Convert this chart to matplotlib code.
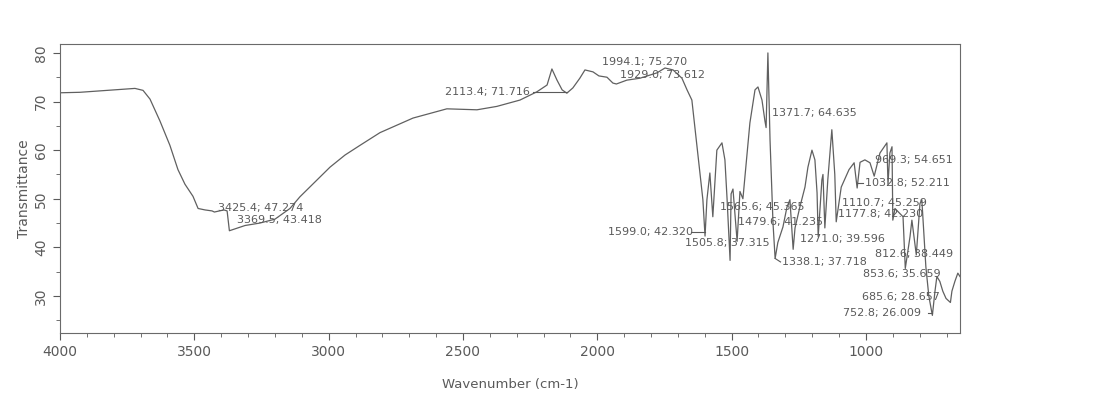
import numpy as np
import matplotlib.pyplot as plt
from matplotlib.ticker import MultipleLocator

# spectrum (wavenumber cm-1, %T)
wavenumber = [4000, 3926, 3851, 3777, 3721, 3691, 3665, 3628, 3591, 3561, 3535, 3505,
              3486, 3460, 3434, 3425.4, 3390, 3378, 3369.5, 3349, 3311, 3256, 3200, 3144,
              3107, 3043, 2995, 2939, 2883, 2809, 2686, 2560, 2448, 2374, 2288, 2225,
              2187, 2169, 2150, 2131, 2113.4, 2091, 2065, 2046, 2016, 1994.1, 1964, 1942,
              1929.0, 1890, 1841, 1778, 1748, 1718, 1685, 1666, 1648, 1637, 1618, 1607,
              1599.0, 1592, 1581, 1570, 1555, 1536, 1525, 1517, 1505.8, 1502, 1495, 1479.6,
              1469, 1458, 1447, 1432, 1413, 1402, 1387, 1376, 1371.7, 1365, 1357, 1346,
              1338.1, 1328, 1309, 1294, 1283, 1271.0, 1264, 1246, 1227, 1216, 1201, 1190,
              1182, 1177.8, 1164, 1160, 1153, 1142, 1127, 1116, 1110.7, 1092, 1063, 1044,
              1032.8, 1022, 1004, 985, 969.3, 948, 922, 918, 911, 903, 900, 892,
              862, 853.6, 836, 829, 812.6, 799, 792, 777, 766, 752.8, 743, 736,
              725, 714, 702, 685.6, 680, 669, 658, 650]
transmittance = [71.8, 71.9, 72.2, 72.5, 72.7, 72.3, 70.5, 66.0, 61.0, 56.0, 53.0, 50.5,
                 48.0, 47.7, 47.5, 47.27, 47.7, 47.5, 43.42, 43.8, 44.5, 45.0, 45.8, 48.0,
                 50.4, 53.9, 56.5, 59.0, 61.0, 63.6, 66.6, 68.5, 68.3, 69.0, 70.3, 72.0,
                 73.4, 76.7, 74.4, 72.4, 71.72, 72.8, 74.8, 76.5, 76.1, 75.27, 75.0, 73.8,
                 73.61, 74.4, 74.8, 75.9, 76.9, 76.5, 74.8, 72.4, 70.3, 64.8, 55.3, 49.8,
                 42.32, 49.8, 55.3, 46.3, 60.0, 61.5, 58.0, 50.0, 37.32, 51.0, 52.0, 41.24,
                 51.5, 50.0, 56.5, 65.6, 72.4, 73.0, 70.3, 66.0, 64.64, 80.0, 62.0, 45.0,
                 37.72, 41.0, 44.2, 48.3, 49.8, 39.60, 44.0, 48.3, 52.4, 56.5, 60.0, 58.0,
                 51.2, 42.23, 53.9, 55.0, 44.0, 53.9, 64.2, 55.0, 45.26, 52.4, 56.0, 57.4,
                 52.21, 57.5, 58.0, 57.4, 54.65, 59.4, 61.5, 53.0, 59.4, 60.7, 45.6, 48.0,
                 46.3, 35.66, 42.2, 45.6, 38.45, 49.0, 49.8, 36.0, 30.0, 26.01, 31.0, 34.0,
                 33.0, 31.0, 29.5, 28.66, 31.0, 33.0, 34.7, 34.0]

# peak labels: text, text position (wn, T), alignment
peak_text = ["3425.4; 47.274", "3369.5; 43.418", "2113.4; 71.716", "1994.1; 75.270",
             "1929.0; 73.612", "1371.7; 64.635", "1599.0; 42.320", "1565.6; 45.365",
             "1505.8; 37.315", "1479.6; 41.235", "1338.1; 37.718", "1271.0; 39.596",
             "1177.8; 42.230", "1110.7; 45.259", "1032.8; 52.211", "969.3; 54.651",
             "812.6; 38.449", "853.6; 35.659", "685.6; 28.657", "752.8; 26.009"]
text_wn = [3412, 3341, 2251, 1983, 1916, 1350, 1644, 1544, 1674, 1477, 1313, 1246,
           1104, 1089, 1004, 967, 967, 1011, 1015, 1086]
text_t = [48.2, 45.6, 72.0, 78.1, 75.5, 67.7, 43.2, 48.3, 40.9, 45.2, 37.0, 41.7,
          46.9, 49.1, 53.3, 58.0, 38.7, 34.5, 29.8, 26.5]
text_ha = ['left', 'left', 'right', 'left', 'left', 'left', 'right', 'left', 'left', 'left',
           'left', 'left', 'left', 'left', 'left', 'left', 'left', 'left', 'left', 'left']

grey = '#5a5a5a'
fig = plt.figure(figsize=(10.93, 4.09), dpi=100)
ax = fig.add_axes([0.0549, 0.186, 0.8234, 0.706])
ax.plot(wavenumber, transmittance, color='#606060', lw=0.9)

for s, x, y, ha in zip(peak_text, text_wn, text_t, text_ha):
    ax.text(x, y, s, fontsize=8, color=grey, ha=ha, va='center')

# a few leader lines, as the instrument printout draws them
ax.plot([2240, 2113.4], [71.9, 71.9], color=grey, lw=0.8)
ax.plot([1650, 1599.0], [43.2, 43.2], color=grey, lw=0.8)
ax.plot([1338.1, 1318], [37.72, 37.0], color=grey, lw=0.8)
ax.plot([1032.8, 1010], [53.3, 53.3], color=grey, lw=0.8)
ax.plot([752.8, 770], [26.5, 26.5], color=grey, lw=0.8)

ax.set_xlim(4000, 650)
ax.set_ylim(22.4, 81.8)
ax.xaxis.set_major_locator(MultipleLocator(500))
ax.xaxis.set_minor_locator(MultipleLocator(100))
ax.yaxis.set_major_locator(MultipleLocator(10))
ax.yaxis.set_minor_locator(MultipleLocator(5))
ax.tick_params(which='both', direction='out', colors=grey, labelsize=10)
ax.tick_params(which='major', length=5)
ax.tick_params(which='minor', length=3)
for lab in ax.get_yticklabels():
    lab.set_rotation(90)
    lab.set_va('center')
for sp in ax.spines.values():
    sp.set_color('#6a6a6a')

ax.set_xlabel('Wavenumber (cm-1)', fontsize=9.5, color=grey, labelpad=14)
ax.set_ylabel('Transmittance', fontsize=10, color=grey)
ax.yaxis.set_label_coords(-0.032, 0.5)

plt.savefig('out.png', dpi=100)
